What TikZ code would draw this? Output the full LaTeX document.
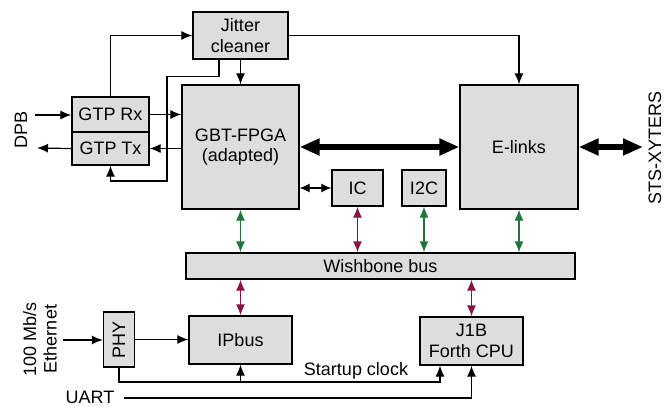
\documentclass[tikz,border=0pt]{standalone}
\usepackage{fontspec}
\setmainfont{Liberation Sans}
\usetikzlibrary{arrows.meta,calc}
\definecolor{boxgray}{HTML}{DDDDDD}
\definecolor{busgreen}{RGB}{30,118,58}
\definecolor{buswine}{RGB}{137,20,68}
\begin{document}
\begin{tikzpicture}[x=1pt,y=-1pt,
  font=\fontsize{18}{20.5}\selectfont,
  blk/.style={draw,line width=1.3pt,fill=boxgray,inner sep=0pt,align=center},
  arr/.style={line width=1.2pt,-{Latex[length=11pt,width=9pt]}},
  darr/.style={line width=1.2pt,{Latex[length=10pt,width=9pt]}-{Latex[length=10pt,width=9pt]}},
  gbus/.style={line width=1.3pt,draw=busgreen,{Latex[length=11pt,width=9pt,fill=busgreen]}-{Latex[length=11pt,width=9pt,fill=busgreen]}},
  wbus/.style={line width=1.3pt,draw=buswine,{Latex[length=11pt,width=9pt,fill=buswine]}-{Latex[length=11pt,width=9pt,fill=buswine]}},
  thick arr/.style={line width=6pt,{Triangle[length=20pt,width=16pt]}-{Triangle[length=20pt,width=16pt]}},
  lbl/.style={inner sep=0pt}]
\useasboundingbox (0,0) rectangle (665,407);
% blocks
\node[blk,minimum width=95pt,minimum height=47pt] (jit) at (240.5,35.5) {Jitter\\cleaner};
\node[blk,minimum width=117pt,minimum height=124pt] (gbt) at (240.5,147) {GBT-FPGA\\(adapted)};
\node[blk,minimum width=77pt,minimum height=35pt] (rx) at (110.5,114.5) {GTP Rx};
\node[blk,minimum width=77pt,minimum height=33pt] (tx) at (110.5,148.5) {GTP Tx};
\node[blk,minimum width=118pt,minimum height=124pt] (el) at (519,147) {E-links};
\node[blk,minimum width=51pt,minimum height=36pt] (ic) at (357.5,188) {IC};
\node[blk,minimum width=44pt,minimum height=36pt] (i2c) at (424,188) {I2C};
\node[blk,minimum width=389pt,minimum height=26pt] (wb) at (380.5,266) {Wishbone bus};
\node[blk,minimum width=103pt,minimum height=48pt] (ipb) at (240.5,340) {IPbus};
\node[blk,minimum width=103pt,minimum height=48pt] (j1b) at (471.5,341) {J1B\\Forth CPU};
\node[blk,minimum width=31pt,minimum height=55pt] (phy) at (119,339.5) {\rotatebox{90}{PHY}};
% labels
\node[lbl,rotate=90] (dpb) at (21,130) {DPB};
\node[lbl,rotate=90] (sts) at (655,148) {STS-XYTERS};
\node[lbl,rotate=90,align=center] (eth) at (40,339) {100 Mb/s\\Ethernet};
\node[lbl] (sclk) at (356,371) {Startup clock};
\node[lbl] (uartl) at (90,397) {UART};
% free ends
\coordinate (dpbin) at (35,115);
\coordinate (dpbout) at (37,148);
\coordinate (stsend) at (643,147);
\coordinate (ethin) at (63,340);
\coordinate (fb) at (167,181);
\coordinate (sc) at (440,382);
\coordinate (uart) at (124,398);
% connectors
\draw[arr] (dpbin) -- (dpbin -| rx.west);
\draw[arr] (tx.west) -- (dpbout);
\draw[arr] (rx.east) -- (rx.east -| gbt.west);
\draw[arr] (tx.east -| gbt.west) -- (tx.east);
\draw[arr] (rx.north) |- (jit.west);
\draw[arr] (jit.east) -| (el.north);
\draw[arr] (jit.south) -- (gbt.north);
\draw[arr] ([xshift=-21.5pt]jit.south) -- ++(0,17) -| (fb) -| (tx.south);
\draw[thick arr] (gbt.east) -- (el.west);
\draw[thick arr] (el.east) -- (stsend);
\draw[darr] (ic.west -| gbt.east) -- (ic.west);
\draw[gbus] (gbt.south) -- (gbt.south |- wb.north);
\draw[wbus] (ic.south) -- (ic.south |- wb.north);
\draw[gbus] (i2c.south) -- (i2c.south |- wb.north);
\draw[gbus] (el.south) -- (el.south |- wb.north);
\draw[wbus] (wb.south -| ipb.north) -- (ipb.north);
\draw[wbus] (wb.south -| j1b.north) -- (j1b.north);
\draw[arr] (ethin) -- (ethin -| phy.west);
\draw[arr] (phy.east) -- (phy.east -| ipb.west);
\draw[arr] (phy.south) |- (sc) -- (sc |- j1b.south);
\draw[arr] (ipb.south |- sc) -- (ipb.south);
\draw[arr] (uart) -| (j1b.south);
\end{tikzpicture}
\end{document}
